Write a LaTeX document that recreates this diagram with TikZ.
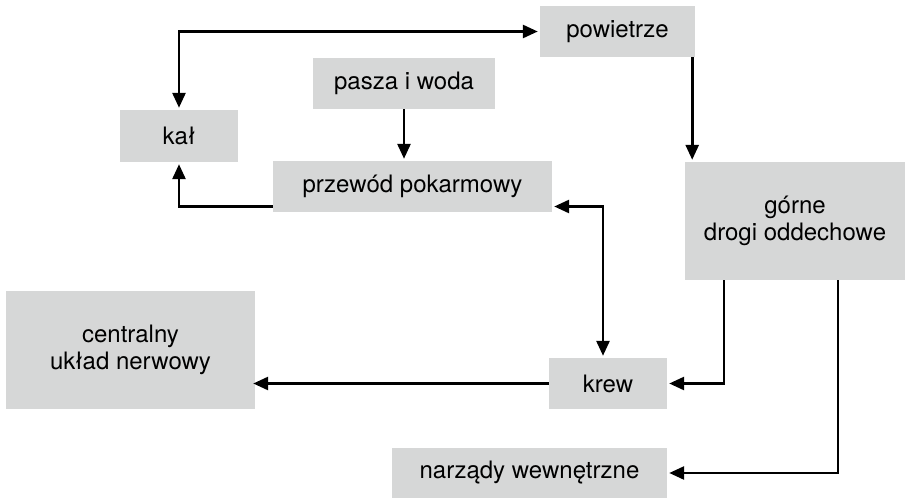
\documentclass[tikz,border=0pt]{standalone}
\usepackage{fontspec}
\setmainfont{TeX Gyre Heros}
\usetikzlibrary{arrows.meta}
\definecolor{boxgray}{HTML}{D6D7D7}
\begin{document}
\begin{tikzpicture}[x=1pt,y=-1pt,
  box/.style={fill=boxgray,draw=none,inner sep=0pt,align=center,
    font=\fontsize{24}{27}\selectfont},
  conn/.style={line width=2.7pt,-{Triangle[length=15pt,width=13pt]}},
  bconn/.style={line width=2.7pt,{Triangle[length=15pt,width=13pt]}-{Triangle[length=15pt,width=13pt]}}]
\useasboundingbox (0,0) rectangle (905,498);
\node[box,minimum width=155pt,minimum height=51pt] (pow) at (617.5,31.5) {powietrze};
\node[box,minimum width=182pt,minimum height=51pt] (pasza) at (404,83.5) {pasza i woda};
\node[box,minimum width=118pt,minimum height=52pt] (kal) at (179,136) {kał};
\node[box,minimum width=279pt,minimum height=51pt] (przewod) at (412.5,186.5) {przewód pokarmowy};
\node[box,minimum width=220pt,minimum height=118pt] (gorne) at (795,221) {górne\\drogi oddechowe};
\node[box,minimum width=249pt,minimum height=118pt] (cun) at (130.5,350) {centralny\\układ nerwowy};
\node[box,minimum width=118pt,minimum height=51pt] (krew) at (608,383.5) {krew};
\node[box,minimum width=275pt,minimum height=50pt] (narz) at (529.5,473) {narządy wewnętrzne};
% connectors
\draw[bconn] ([yshift=2pt]kal.north) |- ([xshift=-2pt]pow.west);
\draw[conn] ([xshift=-3pt]pow.south east) -- ([xshift=-3pt,yshift=2pt]pow.south east |- gorne.north);
\draw[conn] (pasza.south) -- ([yshift=2pt]pasza.south |- przewod.north);
\draw[conn] ([yshift=-20pt]przewod.west) -| ([yshift=-2pt]kal.south);
\draw[bconn] ([xshift=2pt,yshift=-20pt]przewod.east) -| ([xshift=-5pt,yshift=2pt]krew.north);
\draw[conn] ([xshift=-71pt]gorne.south) |- ([xshift=2pt]krew.east);
\draw[conn] ([xshift=43pt]gorne.south) |- ([xshift=2pt]narz.east);
\draw[conn] (krew.west) -- ([xshift=-2pt]krew.west -| cun.east);
\end{tikzpicture}
\end{document}
